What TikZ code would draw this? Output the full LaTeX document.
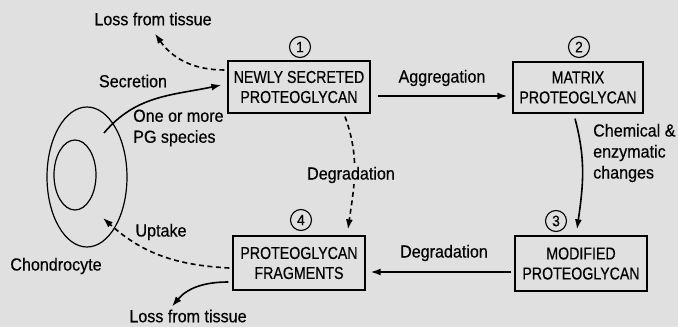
\documentclass[tikz,border=0pt]{standalone}
\usepackage{fontspec}
\setmainfont{Liberation Sans}[FakeStretch=0.92,FakeBold=0.4]
\newfontfamily\boxfont{Liberation Sans}[FakeStretch=0.82,FakeBold=0.4]
\usepackage{tikz}
\usetikzlibrary{shapes,arrows.meta,calc}
\definecolor{paper}{RGB}{224,224,224}

\begin{document}
\begin{tikzpicture}[x=1pt,y=1pt,
    pgbox/.style={draw, line width=1.3pt, align=center, inner sep=0pt, font=\boxfont\fontsize{17.3}{20}\selectfont},
    num/.style={draw, circle, line width=1.1pt, minimum size=21pt, inner sep=0pt, font=\fontsize{15}{15}\selectfont},
    lbl/.style={font=\fontsize{17.5}{21}\selectfont, inner sep=0pt},
    flow/.style={line width=1.6pt, -{Latex[length=10pt,width=7pt]}},
    loss/.style={flow, dash pattern=on 5pt off 3.5pt}]
    \fill[paper] (0,0) rectangle (678,327);
    \useasboundingbox (0,0) rectangle (678,327);

    % the four proteoglycan pools
    \node[pgbox, minimum width=142pt, minimum height=52pt] (nsp) at (299,240) {NEWLY SECRETED\\PROTEOGLYCAN};
    \node[pgbox, minimum width=130pt, minimum height=51pt] (mpg) at (578,239.5) {MATRIX\\PROTEOGLYCAN};
    \node[pgbox, minimum width=132pt, minimum height=55pt] (mod) at (581,63.5) {MODIFIED\\PROTEOGLYCAN};
    \node[pgbox, minimum width=132pt, minimum height=54pt] (frag) at (299,64) {PROTEOGLYCAN\\FRAGMENTS};

    \node[num] (n1) at (300,280) {1};
    \node[num] (n2) at (579,280) {2};
    \node[num] (n3) at (556,106) {3};
    \node[num] (n4) at (301,107) {4};

    % the cell
    \node[draw, ellipse, line width=1.2pt, minimum width=80pt, minimum height=140pt, inner sep=0pt] (cell) at (87,150) {};
    \node[draw, ellipse, line width=1.2pt, minimum width=42pt, minimum height=70pt, inner sep=0pt] (nucleus) at (75,152) {};
    \node[lbl] (chondro) at (56,61) {Chondrocyte};
    \coordinate (sec) at (104,194);

    \node[lbl] (losstop) at (153,308) {Loss from tissue};
    \node[lbl] (lossbot) at (188,11) {Loss from tissue};
    \node[lbl] (secr) at (133,246) {Secretion};
    \node[lbl, anchor=west, align=left] (species) at (133,199) {One or more\\PG species};
    \node[lbl] (aggr) at (442,249) {Aggregation};
    \node[lbl, anchor=west, align=left] (chem) at (593,174) {Chemical \&\\enzymatic\\changes};
    \node[lbl] (degr2) at (444,74) {Degradation};
    \node[lbl] (upt) at (161,95) {Uptake};

    \draw[flow] (sec) to[out=50,in=192] ($(nsp.west)+(-6,2)$);
    \draw[loss] ($(nsp.west)+(-3,17)$) to[out=180,in=-55] ($(losstop.south)+(2,-8)$);
    \draw[flow] ($(nsp.east)+(7,-9)$) -- ($(mpg.west)+(-5,-8.5)$);
    \draw[flow] ($(mpg.south)+(-3,-5)$) to[out=-75,in=82] ($(mod.north)+(-4,6)$);
    \draw[flow] ($(mod.west)+(-3,-8.5)$) -- ($(frag.east)+(5,-9)$);
    \draw[loss] ($(nsp.south)+(46,-3)$) to[out=-70,in=82] ($(frag.north)+(49,6)$);
    \draw[loss] ($(frag.west)+(-3,-5)$) to[out=177,in=-42] ($(cell.center)+(16,-41)$);
    \draw[flow] ($(frag.west)+(-4,-19)$) to[out=180,in=50] ($(lossbot.north)+(-16,3)$);

    \node[lbl, fill=paper, inner sep=1pt] (degr1) at (351,152) {Degradation};
\end{tikzpicture}
\end{document}
